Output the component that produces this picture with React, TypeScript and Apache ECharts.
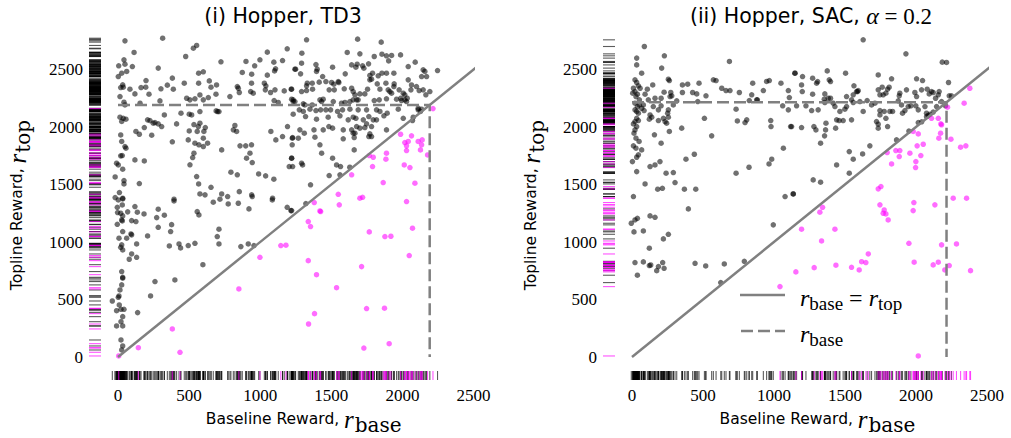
import React, { useEffect, useRef } from "react";
import * as echarts from "echarts";

// ---------- data (rewards) ----------
const tickValues = [0, 500, 1000, 1500, 2000, 2500];

// (i) Hopper, TD3 : [baseline, topline]
const td3Above: number[][] = [
  [314, 2772], [49, 2749], [553, 2709], [530, 2685], [113, 2648], [476, 2613],
  [5, 2532], [42, 2584], [49, 2546], [61, 2483], [26, 2468], [2, 2439], [101, 2526],
  [724, 2567], [900, 2570], [961, 2532], [998, 2584], [1050, 2651], [1096, 2564], [1157, 2578],
  [1190, 2680], [283, 2512], [567, 2468], [600, 2480], [874, 2474], [940, 2459], [1050, 2451],
  [1101, 2488], [1108, 2506], [1244, 2503], [382, 2425], [197, 2404], [33, 2367], [19, 2343],
  [37, 2346], [84, 2329], [119, 2288], [162, 2343], [195, 2346], [218, 2285], [347, 2364],
  [302, 2332], [389, 2329], [466, 2381], [567, 2381], [642, 2401], [693, 2366], [654, 2346],
  [689, 2285], [839, 2352], [846, 2337], [853, 2300], [939, 2381], [951, 2294], [933, 2308],
  [1029, 2381], [1040, 2358], [1036, 2323], [1073, 2300], [1104, 2323], [1169, 2314], [1218, 2329],
  [576, 2279], [483, 2250], [506, 2236], [541, 2245], [600, 2236], [635, 2256], [787, 2265],
  [295, 2227], [14, 2265], [42, 2216], [49, 2192], [155, 2207], [1098, 2230], [1127, 2213],
  [1221, 2242], [1232, 2221], [700, 2134], [690, 2140], [710, 2134], [443, 2120], [501, 2111],
  [518, 2105], [576, 2134], [225, 2056], [260, 2039], [283, 2027], [248, 2033], [307, 2004],
  [208, 2062], [14, 2085], [37, 2076], [56, 2068], [26, 2048], [326, 2105], [412, 2027],
  [185, 1995], [126, 1961], [150, 1937], [237, 1929], [501, 1966], [534, 2021], [565, 2004],
  [576, 2033], [614, 1995], [604, 1961], [557, 1961], [494, 1888], [541, 1859], [569, 1845],
  [600, 1830], [630, 1859], [600, 1903], [382, 1871], [822, 2013], [811, 1975], [834, 1961],
  [858, 1836], [898, 1836], [939, 1845], [729, 1801], [928, 1772], [944, 1691], [904, 1729],
  [1075, 1961], [1110, 1888], [1157, 1917], [1192, 2004], [1226, 1903], [1225, 1845], [1221, 1729],
  [1204, 1656], [19, 1931], [26, 1874], [49, 1830], [56, 1816], [30, 1752], [19, 1749],
  [-10, 1685], [2, 1670], [33, 1633], [119, 1714], [185, 1705], [525, 1734], [506, 1671],
  [534, 1772], [553, 1569], [567, 1505], [654, 1476], [794, 1607], [839, 1584], [989, 1592],
  [1038, 1575], [1096, 1546], [-20, 1566], [42, 1534], [42, 1505], [150, 1508], [576, 1418],
  [612, 1410], [729, 1418], [771, 1395], [853, 1438], [940, 1410], [944, 1395], [1087, 1381],
  [-20, 1386], [10, 1430], [33, 1381], [394, 1372],
  [2, 1366], [33, 1375], [-5, 1302], [30, 1322], [-3, 1256], [19, 1250], [33, 1227], [26, 1192],
  [-5, 1154], [30, 1183], [119, 1308], [136, 1259], [68, 1262], [96, 1186], [126, 1178],
  [183, 1244], [283, 1285], [326, 1233], [272, 1212], [283, 1128], [394, 1357], [377, 1151],
  [370, 1091], [670, 1346], [775, 1331], [717, 1372], [846, 1337], [921, 1288], [1085, 1366],
  [1190, 1302], [1216, 1273], [557, 1264], [569, 1235], [33, 1091], [7, 1033], [61, 1033],
  [96, 1062], [91, 1070], [131, 983], [26, 975], [19, 954], [33, 931], [96, 896], [79, 850],
  [131, 867], [208, 1053], [361, 966], [429, 983], [440, 948], [494, 969], [541, 989],
  [710, 1111], [698, 1047], [710, 983], [864, 960], [916, 983], [956, 969], [597, 803],
  [26, 743], [33, 693], [33, 685], [26, 627], [14, 583], [7, 531], [2, 519], [-40, 487],
  [9, 453], [21, 415], [-10, 403], [42, 415], [33, 351], [21, 307], [33, 270], [-10, 270],
  [21, 148], [33, 96], [26, 61], [260, 656], [400, 670], [229, 531], [138, 386],
  [1321, 1334], [1221, 1273],
  [1326, 2758], [1685, 2764], [1851, 2738], [1293, 2642], [1612, 2648], [1701, 2636], [1802, 2613],
  [1856, 2633], [1888, 2619], [1924, 2622], [1987, 2627], [1903, 2575], [1291, 2555], [1392, 2543],
  [1401, 2503], [1396, 2483], [1509, 2520], [1249, 2503], [1284, 2462], [1643, 2540], [1673, 2520],
  [1682, 2546], [1720, 2532], [1729, 2511], [1762, 2549], [1598, 2462], [1771, 2448], [1783, 2416],
  [1771, 2410], [1790, 2468], [1830, 2445], [1856, 2468], [1888, 2468], [1940, 2468], [2041, 2526],
  [2090, 2564], [2041, 2410], [2064, 2366], [2060, 2323], [2146, 2497], [2158, 2483], [2135, 2439],
  [2170, 2439], [2247, 2491], [1439, 2439], [1415, 2390], [1462, 2395], [1502, 2387], [1549, 2395],
  [1553, 2387], [1518, 2372], [1521, 2323], [1331, 2381], [1326, 2358], [1366, 2381], [1368, 2329],
  [1221, 2329], [1291, 2308], [1326, 2317], [1485, 2323], [1591, 2332], [1643, 2337], [1654, 2308],
  [1666, 2280], [1701, 2288], [1689, 2236], [1755, 2329], [1736, 2288], [1823, 2375], [1842, 2329],
  [1884, 2381], [1900, 2323], [1924, 2294], [1912, 2308], [1942, 2375], [1940, 2352], [1977, 2323],
  [2006, 2294], [2017, 2280], [2034, 2250], [2017, 2236], [1994, 2230], [2029, 2221], [1959, 2242],
  [1989, 2250], [2099, 2352], [2118, 2317], [2146, 2323], [2193, 2308], [2165, 2280], [2111, 2149],
  [2127, 2135], [2111, 2163], [2135, 2155], [1232, 2236], [1244, 2221], [1303, 2201], [1314, 2192],
  [1366, 2192], [1420, 2236], [1432, 2221], [1443, 2242], [1514, 2221], [1572, 2207], [1596, 2213],
  [1631, 2221], [1654, 2236], [1678, 2236], [1802, 2230], [1837, 2236], [1888, 2245], [1275, 2149],
  [1303, 2135], [1350, 2155], [1392, 2143], [1425, 2149], [1462, 2149], [1495, 2149], [1544, 2135],
  [1579, 2149], [1631, 2155], [1689, 2149], [1748, 2149], [1818, 2149], [1842, 2135], [1893, 2120],
  [1971, 2155], [1232, 2111], [1319, 2091], [1396, 2068], [1478, 2085], [1561, 2097], [1619, 2062],
  [1654, 2085], [1673, 2076], [1725, 2062], [1764, 2091], [1818, 2062], [1870, 2097], [1748, 2027],
  [1678, 2004], [1701, 1990], [1783, 2004], [1795, 2062], [2006, 2076], [2076, 2085], [2071, 2056],
  [1279, 1975], [1310, 1946], [1378, 1975], [1385, 1911], [1443, 1975], [1483, 2004], [1509, 1990],
  [1584, 1975], [1643, 1975], [1666, 1946], [1661, 1908], [1654, 1946], [1736, 1995], [1771, 1940],
  [1783, 1917], [1764, 1917], [1888, 1975], [1228, 1908], [1268, 1903], [1584, 1897], [1420, 1845],
  [1432, 1772], [1509, 1729], [1537, 1670], [1565, 1656], [1661, 1801], [1291, 1685], [1298, 1670],
  [1485, 1578], [1561, 1584], [1630, 1650], [1354, 1497], [1221, 1729], [1228, 1656],
];

const td3Below: number[][] = [
  [2215, 2160], [1987, 1937], [2064, 1923], [2017, 1865], [2041, 1874], [2029, 1836], [2029, 1795],
  [2111, 1874], [2139, 1888], [2135, 1845], [2127, 1801], [1767, 1752], [1795, 1737], [1888, 1772],
  [1884, 1720], [2177, 1757], [2013, 1670], [2053, 1647], [1790, 1656], [1643, 1584], [1865, 1517],
  [2088, 1511], [1549, 1415], [1701, 1381], [1720, 1389], [1556, 1323], [1380, 1343], [1420, 1270],
  [1425, 1265], [2029, 1352], [1338, 1178], [1354, 1134], [1767, 1088], [1877, 1047], [1919, 1050],
  [2071, 1120], [2048, 882], [1338, 838], [1713, 786], [1396, 716], [1537, 603], [1748, 421],
  [1874, 424], [1382, 377], [1340, 287], [1729, 78], [1907, 116], [1145, 969], [1181, 972],
  [998, 867], [850, 592], [382, 244], [143, 81], [436, 41], [5, 9],
];

// (ii) Hopper, SAC, alpha = 0.2 : [baseline, topline]
const sacAbove: number[][] = [
  [87, 2700], [33, 2599], [33, 2540], [68, 2468], [228, 2619], [209, 2512], [686, 2570],
  [21, 2410], [33, 2387], [10, 2337], [45, 2358], [21, 2308], [57, 2337], [5, 2294], [28, 2265],
  [38, 2285], [52, 2236], [21, 2149], [33, 2135], [45, 2120], [68, 2163], [85, 2143],
  [108, 2329], [146, 2366], [92, 2285], [256, 2416], [263, 2404], [226, 2303], [273, 2300],
  [280, 2271], [268, 2265], [355, 2366], [392, 2372], [355, 2300], [427, 2300], [456, 2288],
  [472, 2381], [521, 2271], [573, 2410], [592, 2404], [632, 2337], [662, 2317], [690, 2317],
  [756, 2300], [843, 2280], [850, 2381], [925, 2317], [948, 2396], [967, 2404], [883, 2236],
  [1049, 2381], [1108, 2256], [1101, 2317], [1148, 2468], [115, 2236], [162, 2250], [205, 2250],
  [315, 2227], [463, 2221], [21, 2207], [52, 2192], [38, 2178], [80, 2192], [150, 2178],
  [186, 2149], [205, 2184], [256, 2149], [291, 2192], [733, 2155], [826, 2230], [878, 2236],
  [1061, 2184], [1101, 2149], [33, 2076], [21, 2047], [45, 2056], [10, 2027], [33, 2004],
  [127, 2105], [139, 2085], [122, 2068], [186, 2056], [221, 2076], [251, 2120], [256, 2085],
  [244, 2033], [233, 2047], [350, 1990], [510, 2076], [742, 2053], [796, 2039], [808, 2062],
  [977, 2056], [979, 2004], [1117, 2004], [21, 1975], [14, 1946], [28, 1903], [50, 1874],
  [10, 1836], [28, 1816], [45, 1758], [33, 1737], [68, 1801], [3, 1699], [158, 1932],
  [263, 1961], [205, 1859], [561, 1923], [33, 1612], [92, 1505], [127, 1656], [162, 1670],
  [197, 1699], [240, 1598], [291, 1604], [303, 1517], [380, 1720], [439, 1763], [181, 1459],
  [214, 1467], [369, 1459], [449, 1459], [733, 1598], [824, 1650], [965, 1679], [984, 1720],
  [1066, 1816], [10, 1395], [1078, 1395], [1136, 1418],
  [1628, 2758], [1929, 2636], [2185, 2564], [2215, 2561], [1147, 2468], [1201, 2439], [1272, 2424],
  [1307, 2395], [1300, 2381], [1375, 2488], [1389, 2410], [1398, 2395], [1504, 2468], [1734, 2453],
  [1828, 2419], [2004, 2419], [2046, 2404], [1194, 2366], [1199, 2308], [1272, 2285], [1358, 2288],
  [1382, 2250], [1354, 2242], [1398, 2250], [1563, 2358], [1588, 2308], [1593, 2317], [1581, 2308],
  [1558, 2280], [1511, 2265], [1734, 2323], [1762, 2346], [1746, 2280], [1800, 2329], [1811, 2346],
  [1788, 2294], [1769, 2280], [1933, 2323], [1886, 2294], [1882, 2271], [1992, 2300], [2004, 2265],
  [2039, 2323], [2079, 2329], [2109, 2308], [2093, 2288], [2121, 2300], [2138, 2250], [2163, 2308],
  [2157, 2280], [2234, 2271], [2229, 2387], [1159, 2184], [1225, 2184], [1265, 2143], [1311, 2149],
  [1358, 2213], [1417, 2207], [1429, 2178], [1464, 2135], [1499, 2155], [1511, 2178], [1546, 2236],
  [1558, 2213], [1605, 2221], [1628, 2135], [1656, 2230], [1687, 2192], [1711, 2207], [1746, 2143],
  [1776, 2135], [1835, 2135], [1875, 2227], [1898, 2192], [1922, 2143], [1905, 2120], [1945, 2178],
  [1964, 2184], [1999, 2184], [2016, 2149], [2063, 2178], [2074, 2120], [2086, 2100], [2074, 2090],
  [2098, 2110], [2121, 2130], [2145, 2178], [2180, 2221], [2208, 2184], [2250, 2271], [1746, 2105],
  [1722, 2047], [1734, 2024], [1788, 2076], [1816, 2135], [1124, 2004], [1194, 1995], [1281, 2004],
  [1295, 1975], [1366, 2033], [1434, 1990], [1487, 2056], [1441, 2062], [1459, 2056], [1546, 2062],
  [1363, 1975], [1356, 1923], [1328, 1859], [1800, 2004], [1734, 1990], [1863, 1888], [1950, 1965],
  [2016, 2039], [2040, 2045], [1675, 1836], [1530, 1786], [1558, 1720], [1624, 1766], [1441, 1670],
  [1530, 1598], [1276, 1540], [1328, 1520], [1135, 1418],
  [397, 1288], [-5, 1163], [21, 1192], [38, 1206], [127, 1227], [162, 1215], [14, 1088], [80, 1096],
  [256, 1067], [221, 1027], [122, 946], [995, 1149], [21, 821], [80, 827], [122, 795], [132, 800],
  [186, 786], [216, 821], [226, 771], [174, 751], [38, 711], [444, 815], [519, 792], [650, 809],
  [791, 832], [625, 647],
];

const sacBelow: number[][] = [
  [2379, 2337], [2339, 2207], [2222, 2172], [2109, 2076], [2157, 2076], [2175, 2027], [2180, 2019],
  [2173, 1946], [2161, 1903], [2246, 1894], [1980, 1961], [2016, 1940], [2051, 1850], [2008, 1836],
  [2034, 1752], [1957, 1772], [1999, 1699], [1997, 1647], [1797, 1778], [1858, 1795], [1886, 1795],
  [1882, 1743], [1828, 1679], [2314, 1824], [2351, 1836], [1734, 1462], [1753, 1482], [2262, 1381],
  [2356, 1381], [1342, 1302], [1323, 1259], [1194, 1111], [1429, 1111], [1335, 1009], [1746, 1323],
  [1776, 1279], [1769, 1250], [1788, 1244], [1804, 1192], [1985, 1343], [1980, 1273], [2133, 1323],
  [1950, 989], [2180, 975], [2285, 983], [1664, 896], [1617, 829], [1647, 821], [1154, 740],
  [1283, 777], [1436, 798], [1546, 780], [1600, 757], [1987, 824], [2121, 801], [2157, 824],
  [2203, 757], [2234, 795], [2384, 751], [2016, 9], [1042, 612],
];

const td3BaseMean = 2192;
const sacBaseMean = 2215;
const diagonalEnd = 2520;

// ---------- styling ----------
const BLACK = "rgba(0,0,0,0.7)";
const MAGENTA = "rgba(255,0,255,0.72)";
const RUG_BLACK = "rgba(0,0,0,0.8)";
const RUG_MAGENTA = "rgba(255,0,255,0.85)";
const GRAY = "#808080";
const SANS = "DejaVu Sans";
const SERIF = "Liberation Serif";

const axisNameRich = {
  t: { fontFamily: SANS, fontSize: 15.5, color: "#000" },
  r: { fontFamily: SERIF, fontStyle: "italic", fontSize: 25, color: "#000" },
  s: { fontFamily: "DejaVu Serif", fontSize: 20, color: "#000", padding: [12, 0, 0, 1] },
};

type Panel = {
  above: number[][];
  below: number[][];
  mean: number;
  left: number;
  width: number;
};

const panels: Panel[] = [
  { above: td3Above, below: td3Below, mean: td3BaseMean, left: 118, width: 355.5 },
  { above: sacAbove, below: sacBelow, mean: sacBaseMean, left: 632, width: 355 },
];

function buildOption() {
  const grid: any[] = [];
  const xAxis: any[] = [];
  const yAxis: any[] = [];
  const series: any[] = [];

  const hidden = { axisLine: { show: false }, axisTick: { show: false }, axisLabel: { show: false }, splitLine: { show: false } };
  const labelFmt = (v: number) => (tickValues.includes(v) ? String(v) : "");
  const gridBase = { containLabel: false, outerBoundsMode: "none" };

  panels.forEach((p, i) => {
    const g0 = i * 3;
    grid.push({ ...gridBase, left: p.left, top: 35, width: p.width, height: 322 });
    grid.push({ ...gridBase, left: p.left, top: 371, width: p.width, height: 9 });
    grid.push({ ...gridBase, left: p.left - 29, top: 35, width: 12, height: 322 });

    // main axes
    xAxis.push({ type: "value", gridIndex: g0, min: 0, max: 2500, interval: 500, ...hidden });
    yAxis.push({
      type: "value", gridIndex: g0, min: 0, max: 2800, interval: 500,
      axisLine: { show: false }, axisTick: { show: false }, splitLine: { show: false },
      axisLabel: { margin: 35, formatter: labelFmt, fontFamily: SERIF, fontSize: 17, color: "#000" },
      name: "{t|Topline Reward, }{r|r}{s|top}",
      nameLocation: "middle", nameGap: 85,
      nameTextStyle: { rich: axisNameRich, padding: [0, 18, 0, 0] },
    });
    // x rug axes (carry x tick labels)
    xAxis.push({
      type: "value", gridIndex: g0 + 1, min: 0, max: 2500, interval: 500,
      axisLine: { show: false }, axisTick: { show: false }, splitLine: { show: false },
      axisLabel: { margin: 7, formatter: labelFmt, fontFamily: SERIF, fontSize: 17, color: "#000" },
      name: "{t|Baseline Reward, }{r|r}{s|base}",
      nameLocation: "middle", nameGap: 23,
      nameTextStyle: { rich: axisNameRich, padding: [0, 0, 0, 16] },
    });
    yAxis.push({ type: "value", gridIndex: g0 + 1, min: -1, max: 1, ...hidden });
    // y rug axes
    xAxis.push({ type: "value", gridIndex: g0 + 2, min: -1, max: 1, ...hidden });
    yAxis.push({ type: "value", gridIndex: g0 + 2, min: 0, max: 2800, ...hidden });

    series.push({
      type: "scatter", xAxisIndex: g0, yAxisIndex: g0, data: p.above, symbolSize: 5.5,
      itemStyle: { color: BLACK }, clip: false, z: 2,
    });
    series.push({
      type: "scatter", xAxisIndex: g0, yAxisIndex: g0, data: p.below, symbolSize: 5.5,
      itemStyle: { color: MAGENTA }, clip: false, z: 2,
    });
    series.push({
      type: "line", xAxisIndex: g0, yAxisIndex: g0, data: [[0, 0], [diagonalEnd, diagonalEnd]],
      symbol: "none", clip: false, z: 3, lineStyle: { color: GRAY, width: 2.5 },
    });
    series.push({
      type: "line", xAxisIndex: g0, yAxisIndex: g0, data: [[0, p.mean], [p.mean, p.mean], [p.mean, 0]],
      symbol: "none", clip: false, z: 3, lineStyle: { color: GRAY, width: 2.5, type: [12, 5] },
    });
    // rugs
    const rugX = (pts: number[][], color: string) => ({
      type: "scatter", xAxisIndex: g0 + 1, yAxisIndex: g0 + 1, symbol: "rect", symbolSize: [1.1, 9],
      data: pts.map((q) => [q[0], 0]), itemStyle: { color }, clip: false,
    });
    const rugY = (pts: number[][], color: string) => ({
      type: "scatter", xAxisIndex: g0 + 2, yAxisIndex: g0 + 2, symbol: "rect", symbolSize: [12, 1.1],
      data: pts.map((q) => [0, q[1]]), itemStyle: { color }, clip: false,
    });
    series.push(rugX(p.above, RUG_BLACK), rugX(p.below, RUG_MAGENTA));
    series.push(rugY(p.above, RUG_BLACK), rugY(p.below, RUG_MAGENTA));
  });

  const legendRich = {
    r: { fontFamily: SERIF, fontStyle: "italic", fontSize: 24, color: "#000" },
    s: { fontFamily: SERIF, fontSize: 19, color: "#000", padding: [11, 0, 0, 0] },
    e: { fontFamily: SERIF, fontSize: 24, color: "#000" },
  };

  const graphic: any[] = [
    {
      type: "text", x: 283, y: 16,
      style: { text: "(i) Hopper, TD3", font: `20.5px '${SANS}'`, fill: "#000", align: "center", verticalAlign: "middle" },
    },
    {
      type: "text", x: 811, y: 16,
      style: {
        text: "{t|(ii) Hopper, SAC, }{a|α}{e| = 0.2}",
        align: "center", verticalAlign: "middle",
        rich: {
          t: { fontFamily: SANS, fontSize: 20.5, color: "#000" },
          a: { fontFamily: SERIF, fontStyle: "italic", fontSize: 24, color: "#000" },
          e: { fontFamily: SERIF, fontSize: 23, color: "#000" },
        },
      },
    },
    { type: "line", shape: { x1: 740, y1: 295, x2: 785, y2: 295 }, style: { stroke: GRAY, lineWidth: 2.5 } },
    { type: "line", shape: { x1: 741, y1: 331, x2: 785, y2: 331 }, style: { stroke: GRAY, lineWidth: 2.5, lineDash: [12, 5] } },
    {
      type: "text", x: 800, y: 298,
      style: { text: "{r|r}{s|base}{e| = }{r|r}{s|top}", rich: legendRich, verticalAlign: "middle" },
    },
    {
      type: "text", x: 800, y: 334,
      style: { text: "{r|r}{s|base}", rich: legendRich, verticalAlign: "middle" },
    },
  ];

  return { animation: false, grid, xAxis, yAxis, series, graphic };
}

export default function App() {
  const ref = useRef<HTMLDivElement>(null);
  useEffect(() => {
    if (!ref.current) return;
    const chart = echarts.init(ref.current, undefined, { renderer: "svg" });
    chart.setOption(buildOption() as any);
    return () => chart.dispose();
  }, []);
  return (
    <div
      ref={ref}
      style={{ width: 1011, height: 438, position: "absolute", left: 0, top: 0, background: "#fff" }}
    />
  );
}
